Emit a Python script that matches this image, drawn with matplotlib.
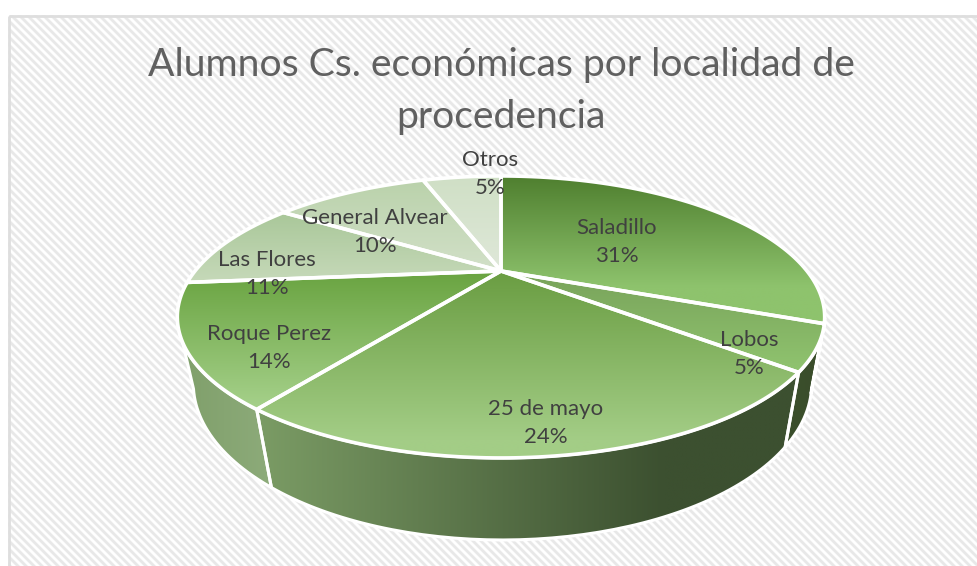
import numpy as np
import matplotlib
matplotlib.use('Agg')
import matplotlib.pyplot as plt
from matplotlib.patches import Polygon, Rectangle
from matplotlib.colors import to_rgb

categories = ['Saladillo', 'Lobos', '25 de mayo', 'Roque Perez', 'Las Flores', 'General Alvear', 'Otros']
values = [31, 5, 24, 13.6, 10.6, 10.4, 5.4]
title = 'Alumnos Cs. económicas por localidad de\nprocedencia'
top_colors = [('#4f7f2f', '#8ec36d'), ('#78a25a', '#90c46f'), ('#6a9d42', '#a3cd86'), ('#69a340', '#a6d18b'),
              ('#a9c799', '#c6d9b9'), ('#bad2ab', '#d2e0c8'), ('#cfdfc5', '#dfe8d9')]
wall_colors = [('#3b4f2c', '#3b4f2c'), ('#3b4f2c', '#3a4d2b'), ('#7b9c65', '#3c5030'), ('#7f9f6a', '#8dab7a')]
label_pos = [(617, 242.5), (749, 353.5), (546, 423), (269, 347.5), (267, 273.5), (375, 231.5), (490, 173.5)]

W, H = 978, 566
fig = plt.figure(figsize=(W / 100, H / 100), dpi=100)
ax = fig.add_axes([0, 0, 1, 1])
ax.set_xlim(0, W)
ax.set_ylim(H, 0)
ax.axis('off')

# background
yy, xx = np.mgrid[0:H, 0:W]
period = 8.0
s = np.cos(2 * np.pi * (xx - yy) / period)
bg = 0.955 + 0.045 * np.clip(s * 1.3, -1, 1)
img = np.dstack([bg, bg, bg])
img[:15, :] = 1
img[:, :8] = 1
ax.imshow(img, extent=(0, W, H, 0), interpolation='nearest', aspect='auto', zorder=0)
ax.add_patch(Rectangle((9, 16), W, H, fill=False, ec='#dedede', lw=2, zorder=1))
ax.set_xlim(0, W)
ax.set_ylim(H, 0)

# projection of the cylinder
CX, CY = 501, 271
A, B, P, Q, C = 306, 126, 0.326, 0.042, 66.6

def top(t):
    u, v = np.sin(t), np.cos(t)
    w = 1 + P * v
    return CX + A * u / w, CY - B * v / w

def bottom(t):
    u, v = np.sin(t), np.cos(t)
    w = 1 + P * v + Q
    return CX + 1.5 + A * u / w, CY - (B * v - C) / w

def gradient(poly, c0, c1, horizontal=False, zorder=2, end=1.0):
    xy = poly
    x0, x1, y0, y1 = xy[:, 0].min(), xy[:, 0].max(), xy[:, 1].min(), xy[:, 1].max()
    f = np.clip(np.linspace(0, 1, 256) / end, 0, 1)
    col = np.outer(1 - f, to_rgb(c0)) + np.outer(f, to_rgb(c1))
    arr = col[None, :, :] if horizontal else col[:, None, :]
    im = ax.imshow(arr, extent=(x0, x1, y1, y0), aspect='auto', zorder=zorder, interpolation='bilinear')
    patch = Polygon(xy, closed=True, transform=ax.transData, fc='none', ec='none')
    ax.add_patch(patch)
    im.set_clip_path(patch)

fracs = np.array(values, float) / sum(values)
edges = np.concatenate([[0], np.cumsum(fracs)]) * 2 * np.pi
WALL_A, WALL_B = np.radians(110), np.radians(250)

# side walls
for i, (a, b) in enumerate(zip(edges[:-1], edges[1:])):
    lo, hi = max(a, WALL_A), min(b, WALL_B)
    if lo >= hi:
        continue
    t = np.linspace(lo, hi, 80)
    tx, ty = top(t)
    bx, by = bottom(t)
    poly = np.column_stack([np.r_[tx, bx[::-1]], np.r_[ty, by[::-1]]])
    gradient(poly, *wall_colors[i], horizontal=True, zorder=2, end=0.75 if i == 2 else 1.0)
    closed = np.vstack([poly, poly[:1]])
    ax.plot(closed[:, 0], closed[:, 1], color='white', lw=2.2, zorder=3)

# top faces
for i, (a, b) in enumerate(zip(edges[:-1], edges[1:])):
    t = np.linspace(a, b, 120)
    tx, ty = top(t)
    poly = np.column_stack([np.r_[CX, tx], np.r_[CY, ty]])
    gradient(poly, *top_colors[i], zorder=4, end=0.75 if i == 0 else (0.9 if i == 2 else 1.0))
    ax.add_patch(Polygon(poly, closed=True, fc='none', ec='white', lw=2.6, joinstyle='round', zorder=5))

font = 'Lato'
ax.text(501, 91, title, ha='center', va='center', fontsize=28.2, color='#606060', family=font, linespacing=1.58, zorder=6)
for name, val, (x, y) in zip(categories, values, label_pos):
    ax.text(x, y, f'{name}\n{val:.0f}%', ha='center', va='center', fontsize=16, color='#404040', family=font, linespacing=1.5, zorder=6)

fig.savefig('out.png', dpi=100)
